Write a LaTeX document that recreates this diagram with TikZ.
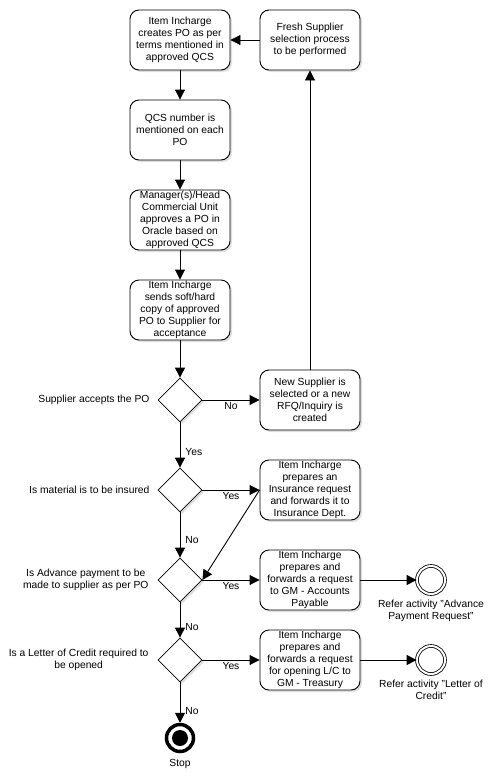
\documentclass[tikz,border=0pt]{standalone}
\usepackage{fontspec}
\setmainfont{Liberation Sans}
\usetikzlibrary{shapes.geometric,arrows.meta,shadows}
\begin{document}
\begin{tikzpicture}[x=1pt,y=1pt,
  every node/.style={font=\fontsize{10.3}{12}\selectfont},
  shad/.style={drop shadow={shadow xshift=2pt,shadow yshift=-2pt,fill=black!25}},
  procbox/.style={draw,fill=white,rounded corners=9pt,minimum width=100pt,minimum height=60pt,inner sep=0pt,align=center,shad,line width=0.9pt},
  decis/.style={draw,fill=white,diamond,minimum width=44pt,minimum height=44pt,inner sep=0pt,aspect=1,shad,line width=0.8pt},
  flow/.style={-{Triangle[length=10pt,width=10pt]},line width=0.9pt},
  lbl/.style={inner sep=1pt},
  endev/.style={draw,circle,minimum size=28pt,inner sep=0pt,line width=0.8pt,double=white,double distance=2pt,fill=white},
]
\useasboundingbox (0,0) rectangle (495,-779);
\node[procbox] (b1) at (180,-40) {Item Incharge\\creates PO as per\\terms mentioned in\\approved QCS};
\node[procbox] (b2) at (180,-130) {QCS number is\\mentioned on each\\PO};
\node[procbox] (b3) at (180,-220) {Manager(s)/Head\\Commercial Unit\\approves a PO in\\Oracle based on\\approved QCS};
\node[procbox] (b4) at (180,-310) {Item Incharge\\sends soft/hard\\copy of approved\\PO to Supplier for\\acceptance};
\node[procbox] (fresh) at (310,-40) {Fresh Supplier\\selection process\\to be performed};
\node[decis] (d1) at (180,-400) {};
\node[procbox] (ns) at (310,-400) {New Supplier is\\selected or a new\\RFQ/Inquiry is\\created};
\node[decis] (d2) at (180,-490) {};
\node[procbox] (ins) at (310,-490) {Item Incharge\\prepares an\\Insurance request\\and forwards it to\\Insurance Dept.};
\node[decis] (d3) at (180,-580) {};
\node[procbox] (pay) at (310,-580) {Item Incharge\\prepares and\\forwards a request\\to GM - Accounts\\Payable};
\node[decis] (d4) at (180,-660) {};
\node[procbox] (tre) at (310,-660) {Item Incharge\\prepares and\\forwards a request\\for opening L/C to\\GM - Treasury};
\node[endev] (e1) at (431,-580) {};
\node[endev] (e2) at (431,-660) {};
\node[draw,circle,minimum size=27pt,line width=3.5pt,fill=white,inner sep=0pt] (stop) at (180,-738) {};
\fill (stop.center) circle (8pt);
% labels
\node[anchor=east,align=center] (q1) at (153,-400) {Supplier accepts the PO};
\node[anchor=east,align=center] (q2) at (153,-490) {Is material is to be insured};
\node[anchor=east,align=center] (q3) at (152,-580) {Is Advance payment to be\\made to supplier as per PO};
\node[anchor=east,align=center] (q4) at (152,-660) {Is a Letter of Credit required to\\be opened};
\node[below=2pt,align=center] (t1) at (e1.south) {Refer activity "Advance\\Payment Request"};
\node[below=2pt,align=center] (t2) at (e2.south) {Refer activity "Letter of\\Credit"};
\node[below=3pt] (t3) at (stop.south) {Stop};
% connectors
\draw[flow] (b1) -- (b2);
\draw[flow] (b2) -- (b3);
\draw[flow] (b3) -- (b4);
\draw[flow] (b4) -- (d1);
\draw[flow] (d1.east) -- node[lbl,below=1pt] {No} (ns.west);
\draw[flow] (ns.north) -- (fresh.south);
\draw[flow] (fresh.west) -- (b1.east);
\draw[flow] (d1.south) -- node[lbl,right=4pt,pos=0.65] {Yes} (d2.north);
\draw[flow] (d2.east) -- node[lbl,below=1pt] {Yes} (ins.west);
\draw[flow] (ins.west) -- (d3.east);
\draw[flow] (d2.south) -- node[lbl,right=4pt,pos=0.6] {No} (d3.north);
\draw[flow] (d3.east) -- node[lbl,below=1pt] {Yes} (pay.west);
\draw[flow] (pay.east) -- (e1.west);
\draw[flow] (d3.south) -- node[lbl,right=4pt,pos=0.7] {No} (d4.north);
\draw[flow] (d4.east) -- node[lbl,below=1pt] {Yes} (tre.west);
\draw[flow] (tre.east) -- (e2.west);
\draw[flow] (d4.south) -- node[lbl,right=4pt,pos=0.72] {No} (stop.north);
\end{tikzpicture}
\end{document}
